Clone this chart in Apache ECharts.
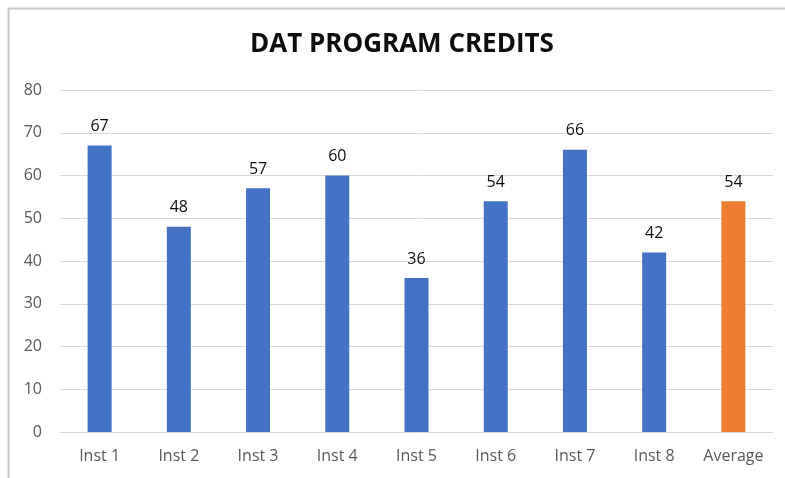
<!DOCTYPE html>
<html>
<head>
<meta charset="utf-8">
<script src="https://cdn.jsdelivr.net/npm/echarts@6/dist/echarts.min.js"></script>
<style>
  html, body { margin: 0; padding: 0; background: #fff; }
  #chart { width: 785px; height: 478px; }
</style>
</head>
<body>
<div id="chart"></div>
<script>
// Program credits per institution, plus the overall average
const categories = ['Inst 1', 'Inst 2', 'Inst 3', 'Inst 4', 'Inst 5', 'Inst 6', 'Inst 7', 'Inst 8', 'Average'];
const credits = [67, 48, 57, 60, 36, 54, 66, 42, 54];
const barColors = ['#4472C4', '#4472C4', '#4472C4', '#4472C4', '#4472C4', '#4472C4', '#4472C4', '#4472C4', '#ED7D31'];
const yTicks = { min: 0, max: 80, interval: 10 };

const chart = echarts.init(document.getElementById('chart'), null, { renderer: 'canvas' });
const font = '"Open Sans", "Liberation Sans", sans-serif';

chart.setOption({
  animation: false,
  backgroundColor: '#ffffff',
  textStyle: { fontFamily: font },
  graphic: [{
    type: 'rect',
    shape: { x: 8.5, y: 8.5, width: 820, height: 520 },
    style: { fill: 'none', stroke: '#c4c4c4', lineWidth: 1.5, shadowBlur: 2, shadowColor: 'rgba(0,0,0,0.15)' },
    silent: true,
    z: -1
  }],
  title: {
    text: 'DAT PROGRAM CREDITS',
    left: 245,
    top: 27,
    textStyle: { fontFamily: font, fontWeight: 'bold', fontSize: 26, color: '#0d0d0d' }
  },
  grid: { left: 60, right: 12, top: 90, bottom: 46, containLabel: false },
  xAxis: {
    type: 'category',
    data: categories,
    axisLine: { lineStyle: { color: '#d9d9d9', width: 1 } },
    axisTick: { show: false },
    axisLabel: { color: '#595959', fontSize: 16, margin: 16, fontFamily: font }
  },
  yAxis: {
    type: 'value',
    min: yTicks.min,
    max: yTicks.max,
    interval: yTicks.interval,
    axisLine: { show: false },
    axisTick: { show: false },
    splitLine: { lineStyle: { color: '#d9d9d9', width: 1 } },
    axisLabel: { color: '#595959', fontSize: 16, margin: 18, fontFamily: font }
  },
  series: [{
    type: 'bar',
    data: credits.map((v, i) => ({ value: v, itemStyle: { color: barColors[i] } })),
    barWidth: 24,
    label: {
      show: true,
      position: 'top',
      distance: 11,
      color: '#0d0d0d',
      fontSize: 16,
      fontFamily: font
    }
  }]
});
</script>
</body>
</html>
